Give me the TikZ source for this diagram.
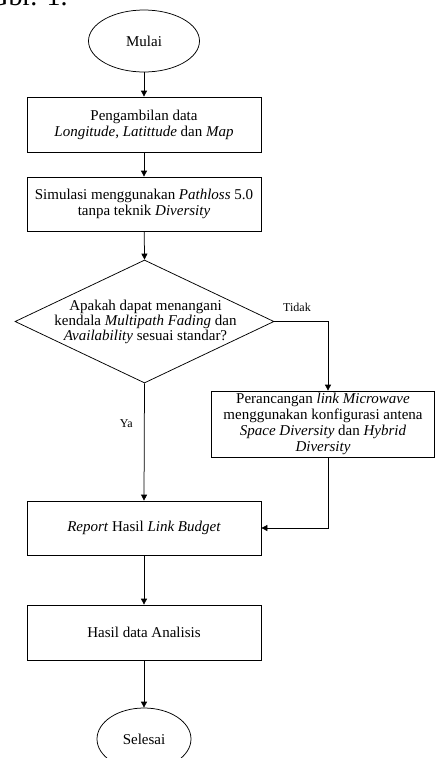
\documentclass[tikz,border=0pt]{standalone}
\usepackage{fontspec}
\setmainfont{Liberation Serif}
\usetikzlibrary{shapes.geometric,arrows.meta,calc}
\tikzset{
  every picture/.style={x=1pt,y=1pt},
  txt/.style={font=\fontsize{15}{16}\selectfont, align=center},
  procbox/.style={txt, draw, rectangle, inner sep=0pt, minimum width=234pt, minimum height=54pt},
  termin/.style={txt, draw, ellipse, inner sep=0pt},
  decis/.style={draw, diamond, inner sep=0pt, minimum width=259pt, minimum height=123pt},
  lbl/.style={font=\fontsize{12}{13}\selectfont},
  conn/.style={line width=0.75pt, -{Triangle[length=6pt,width=6pt]}},
  every node/.append style={line width=0.75pt}
}
\begin{document}
\begin{tikzpicture}
\useasboundingbox (0,0) rectangle (435,-758);
\clip (0,0) rectangle (435,-758);
% partially visible caption at the very top
\node[anchor=base west, inner sep=0pt, font=\fontsize{28}{30}\selectfont] (cap) at (-12,-5) {Gbr. 1.};
% nodes
\node[termin, minimum width=111pt, minimum height=62pt] (mulai) at (144,-41) {Mulai};
\node[procbox, minimum height=55pt] (b1) at (144,-124.5) {Pengambilan data\\ \textit{Longitude}, \textit{Latittude} dan \textit{Map}};
\node[procbox] (b2) at (144,-204) {Simulasi menggunakan \textit{Pathloss} 5.0\\ tanpa teknik \textit{Diversity}};
\node[decis] (dec) at (144.5,-321.5) {};
\node[font=\fontsize{15}{15}\selectfont, align=center] (dectext) at (145.5,-321.5) {Apakah dapat menangani\\ kendala \textit{Multipath Fading} dan\\ \textit{Availability} sesuai standar?};
\node[procbox, minimum width=223pt, minimum height=66pt] (b3) at (323,-424) {Perancangan \textit{link Microwave}\\ menggunakan konfigurasi antena\\ \textit{Space Diversity} dan \textit{Hybrid}\\ \textit{Diversity}};
\node[procbox] (rep) at (144,-528) {\textit{Report} Hasil \textit{Link Budget}};
\node[procbox, minimum height=55pt] (has) at (144,-632.5) {Hasil data Analisis};
\node[termin, minimum width=94pt, minimum height=62pt] (sel) at (144,-739) {Selesai};
% helper coordinates
\coordinate (tc) at (328,-321.5);
\coordinate (bc) at (328,-528);
% connectors
\draw[conn] (mulai) -- (b1);
\draw[conn] (b1) -- (b2);
\draw[conn] (b2) -- (dec.north);
\draw[conn] (dec.south) -- node[lbl, pos=0.34, left=8pt] (ya) {Ya} (rep.north);
\draw[conn] (dec.east) -- (tc) -- (tc |- b3.north);
\node[lbl] (tidak) at (297,-307) {Tidak};
\draw[conn] (tc |- b3.south) -- (bc) -- (rep.east);
\draw[conn] (rep) -- (has);
\draw[conn] (has) -- (sel);
\end{tikzpicture}
\end{document}
